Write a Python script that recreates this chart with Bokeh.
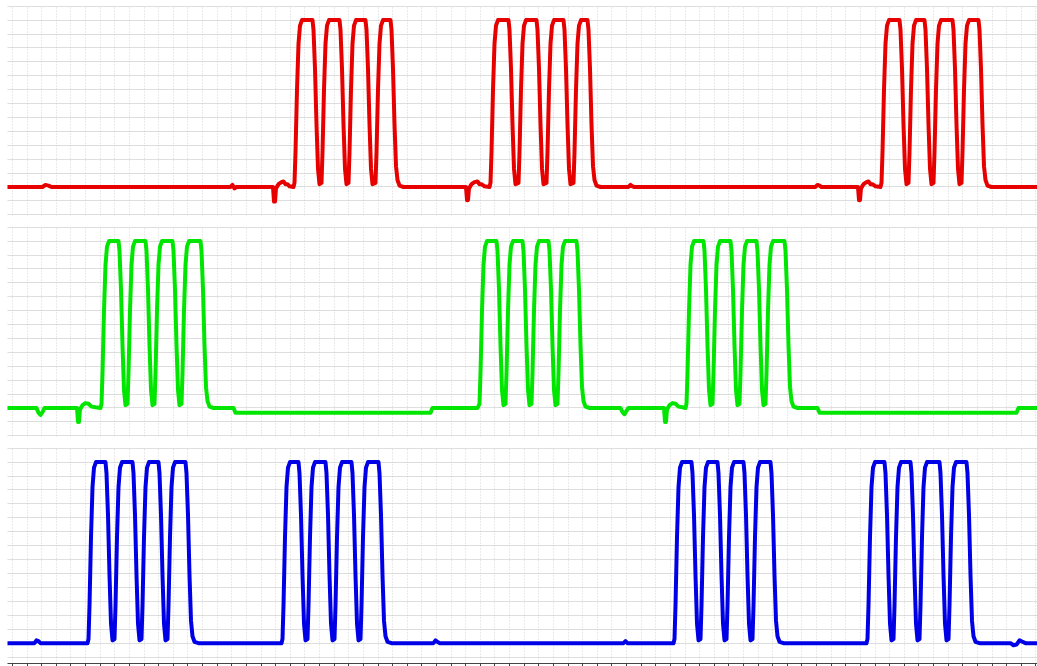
from bokeh.plotting import figure
from bokeh.layouts import column
from bokeh.models import Range1d, FixedTicker, CustomJSTickFormatter
from bokeh.embed import file_html
from bokeh.resources import INLINE

# ---- data: time (arbitrary units) and signal level (divisions) ----
red_t = [7, 42, 45, 48, 51,
         230, 232, 234, 236,
         272.5, 273.5, 274.5, 275.5, 278, 281, 283, 285, 287, 289, 293,
         294, 295, 296.5, 298, 299.5, 301.5, 312, 313, 314.5, 316, 317.5, 319,
         321, 322, 323.5, 325, 326.5, 328.5, 339, 340, 341.5, 343, 344.5, 346,
         348, 349, 350.5, 352, 353.5, 355.5, 365, 366, 367.5, 369, 370.5, 372,
         375, 376, 377.5, 379, 380.5, 382.5, 390, 391, 392.5, 394, 395.5, 397, 399, 403,
         465.5, 466.5, 467.5, 468.5, 471, 474, 477, 479, 481, 484, 489,
         490, 491, 492.5, 494, 495.5, 497.5, 508, 509, 510.5, 512, 513.5, 515,
         518, 519, 520.5, 522, 523.5, 525.5, 536, 537, 538.5, 540, 541.5, 543,
         546, 547, 548.5, 550, 551.5, 553.5, 563, 564, 565.5, 567, 568.5, 570,
         573, 574, 575.5, 577, 578.5, 580.5, 587, 588, 589.5, 591, 592.5, 594, 596, 600,
         628, 630, 632, 634,
         815, 817, 819, 821,
         857.5, 858.5, 859.5, 860.5, 863, 866, 868, 870, 872, 875, 880,
         881, 882, 883.5, 885, 886.5, 888.5, 899, 900, 901.5, 903, 904.5, 906,
         908, 909, 910.5, 912, 913.5, 915.5, 924, 925, 926.5, 928, 929.5, 931,
         933, 934, 935.5, 937, 938.5, 940.5, 952, 953, 954.5, 956, 957.5, 959,
         961, 962, 963.5, 965, 966.5, 968.5, 978, 979, 980.5, 982, 983.5, 985, 987, 991,
         1037]
red_v = [0, 0, 0.15, 0.1, 0,
         0, 0.15, -0.1, 0,
         0, -1.05, -1.05, -0.1, 0.2, 0.35, 0.4, 0.2, 0.2, 0.05, 0,
         0.3, 2.5, 7, 10.3, 11.6, 12, 12, 11.3, 8.5, 4.5, 1.3, 0.2,
         0.3, 2.5, 7, 10.3, 11.6, 12, 12, 11.3, 8.5, 4.5, 1.3, 0.2,
         0.3, 2.5, 7, 10.3, 11.6, 12, 12, 11.3, 8.5, 4.5, 1.3, 0.2,
         0.3, 2.5, 7, 10.3, 11.6, 12, 12, 11.3, 8.5, 4.5, 1.5, 0.5, 0.1, 0,
         0, -0.95, -0.95, -0.1, 0.2, 0.35, 0.4, 0.2, 0.2, 0.05, 0,
         0.3, 2.5, 7, 10.3, 11.6, 12, 12, 11.3, 8.5, 4.5, 1.3, 0.2,
         0.3, 2.5, 7, 10.3, 11.6, 12, 12, 11.3, 8.5, 4.5, 1.3, 0.2,
         0.3, 2.5, 7, 10.3, 11.6, 12, 12, 11.3, 8.5, 4.5, 1.3, 0.2,
         0.3, 2.5, 7, 10.3, 11.6, 12, 12, 11.3, 8.5, 4.5, 1.5, 0.5, 0.1, 0,
         0, 0.15, 0.05, 0,
         0, 0.15, 0.1, 0,
         0, -0.95, -0.95, -0.1, 0.2, 0.35, 0.4, 0.2, 0.2, 0.05, 0,
         0.3, 2.5, 7, 10.3, 11.6, 12, 12, 11.3, 8.5, 4.5, 1.3, 0.2,
         0.3, 2.5, 7, 10.3, 11.6, 12, 12, 11.3, 8.5, 4.5, 1.3, 0.2,
         0.3, 2.5, 7, 10.3, 11.6, 12, 12, 11.3, 8.5, 4.5, 1.3, 0.2,
         0.3, 2.5, 7, 10.3, 11.6, 12, 12, 11.3, 8.5, 4.5, 1.5, 0.5, 0.1, 0,
         0]

green_t = [7, 36, 38, 40, 42, 44,
           76.5, 77.5, 78.5, 79.5, 82, 85, 88, 91, 95, 100,
           101, 102, 103.5, 105, 106.5, 108.5, 118, 119, 120.5, 122, 123.5, 125,
           127, 128, 129.5, 131, 132.5, 134.5, 145, 146, 147.5, 149, 150.5, 152,
           154, 155, 156.5, 158, 159.5, 161.5, 172, 173, 174.5, 176, 177.5, 179,
           181, 182, 183.5, 185, 186.5, 188.5, 200, 201, 202.5, 204, 205.5, 207, 209, 213,
           233, 235, 430, 432, 477,
           479, 480, 481.5, 483, 484.5, 486.5, 496, 497, 498.5, 500, 501.5, 503,
           505, 506, 507.5, 509, 510.5, 512.5, 522, 523, 524.5, 526, 527.5, 529,
           531, 532, 533.5, 535, 536.5, 538.5, 548, 549, 550.5, 552, 553.5, 555,
           557, 558, 559.5, 561, 562.5, 564.5, 576, 577, 578.5, 580, 581.5, 583, 585, 589,
           620, 622, 624, 626, 628,
           663.5, 664.5, 665.5, 666.5, 669, 672, 675, 678, 682, 685,
           686, 687, 688.5, 690, 691.5, 693.5, 703, 704, 705.5, 707, 708.5, 710,
           712, 713, 714.5, 716, 717.5, 719.5, 730, 731, 732.5, 734, 735.5, 737,
           739, 740, 741.5, 743, 744.5, 746.5, 756, 757, 758.5, 760, 761.5, 763,
           765, 766, 767.5, 769, 770.5, 772.5, 784, 785, 786.5, 788, 789.5, 791, 793, 797,
           817, 819, 1016, 1018, 1037]
green_v = [0, 0, -0.35, -0.5, -0.3, 0,
           0, -1.0, -1.0, -0.1, 0.2, 0.35, 0.3, 0.1, 0.05, 0,
           0.3, 2.5, 7, 10.3, 11.6, 12, 12, 11.3, 8.5, 4.5, 1.3, 0.2,
           0.3, 2.5, 7, 10.3, 11.6, 12, 12, 11.3, 8.5, 4.5, 1.3, 0.2,
           0.3, 2.5, 7, 10.3, 11.6, 12, 12, 11.3, 8.5, 4.5, 1.3, 0.2,
           0.3, 2.5, 7, 10.3, 11.6, 12, 12, 11.3, 8.5, 4.5, 1.5, 0.5, 0.1, 0,
           0, -0.35, -0.35, 0, 0,
           0.3, 2.5, 7, 10.3, 11.6, 12, 12, 11.3, 8.5, 4.5, 1.3, 0.2,
           0.3, 2.5, 7, 10.3, 11.6, 12, 12, 11.3, 8.5, 4.5, 1.3, 0.2,
           0.3, 2.5, 7, 10.3, 11.6, 12, 12, 11.3, 8.5, 4.5, 1.3, 0.2,
           0.3, 2.5, 7, 10.3, 11.6, 12, 12, 11.3, 8.5, 4.5, 1.5, 0.5, 0.1, 0,
           0, -0.3, -0.45, -0.2, 0,
           0, -1.0, -1.0, -0.1, 0.2, 0.35, 0.3, 0.1, 0.05, 0,
           0.3, 2.5, 7, 10.3, 11.6, 12, 12, 11.3, 8.5, 4.5, 1.3, 0.2,
           0.3, 2.5, 7, 10.3, 11.6, 12, 12, 11.3, 8.5, 4.5, 1.3, 0.2,
           0.3, 2.5, 7, 10.3, 11.6, 12, 12, 11.3, 8.5, 4.5, 1.3, 0.2,
           0.3, 2.5, 7, 10.3, 11.6, 12, 12, 11.3, 8.5, 4.5, 1.5, 0.5, 0.1, 0,
           0, -0.35, -0.35, 0, 0]

blue_t = [7, 34, 36, 38, 40, 87,
          88, 89, 90.5, 92, 93.5, 95.5, 105, 106, 107.5, 109, 110.5, 112,
          114, 115, 116.5, 118, 119.5, 121.5, 132, 133, 134.5, 136, 137.5, 139,
          141, 142, 143.5, 145, 146.5, 148.5, 158, 159, 160.5, 162, 163.5, 165,
          167, 168, 169.5, 171, 172.5, 174.5, 185, 186, 187.5, 189, 190.5, 192, 194, 198,
          281,
          282, 283, 284.5, 286, 287.5, 289.5, 298, 299, 300.5, 302, 303.5, 305,
          307, 308, 309.5, 311, 312.5, 314.5, 325, 326, 327.5, 329, 330.5, 332,
          334, 335, 336.5, 338, 339.5, 341.5, 351, 352, 353.5, 355, 356.5, 358,
          360, 361, 362.5, 364, 365.5, 367.5, 378, 379, 380.5, 382, 383.5, 385, 387, 391,
          433, 435, 437, 439, 623, 625, 627, 673,
          674, 675, 676.5, 678, 679.5, 681.5, 691, 692, 693.5, 695, 696.5, 698,
          700, 701, 702.5, 704, 705.5, 707.5, 717, 718, 719.5, 721, 722.5, 724,
          726, 727, 728.5, 730, 731.5, 733.5, 743, 744, 745.5, 747, 748.5, 750,
          752, 753, 754.5, 756, 757.5, 759.5, 770, 771, 772.5, 774, 775.5, 777, 779, 783,
          866,
          867, 868, 869.5, 871, 872.5, 874.5, 884, 885, 886.5, 888, 889.5, 891,
          893, 894, 895.5, 897, 898.5, 900.5, 910, 911, 912.5, 914, 915.5, 917,
          919, 920, 921.5, 923, 924.5, 926.5, 939, 940, 941.5, 943, 944.5, 946,
          948, 949, 950.5, 952, 953.5, 955.5, 966, 967, 968.5, 970, 971.5, 973, 975, 979,
          1010, 1013, 1016, 1019, 1022, 1025, 1037]
blue_v = [0, 0, 0.2, 0.15, 0, 0,
          0.3, 2.7, 7.6, 11.2, 12.6, 13, 13, 12.2, 9.2, 4.9, 1.4, 0.2,
          0.3, 2.7, 7.6, 11.2, 12.6, 13, 13, 12.2, 9.2, 4.9, 1.4, 0.2,
          0.3, 2.7, 7.6, 11.2, 12.6, 13, 13, 12.2, 9.2, 4.9, 1.4, 0.2,
          0.3, 2.7, 7.6, 11.2, 12.6, 13, 13, 12.2, 9.2, 4.9, 1.6, 0.5, 0.1, 0,
          0,
          0.3, 2.7, 7.6, 11.2, 12.6, 13, 13, 12.2, 9.2, 4.9, 1.4, 0.2,
          0.3, 2.7, 7.6, 11.2, 12.6, 13, 13, 12.2, 9.2, 4.9, 1.4, 0.2,
          0.3, 2.7, 7.6, 11.2, 12.6, 13, 13, 12.2, 9.2, 4.9, 1.4, 0.2,
          0.3, 2.7, 7.6, 11.2, 12.6, 13, 13, 12.2, 9.2, 4.9, 1.6, 0.5, 0.1, 0,
          0, 0.2, 0.1, 0, 0, 0.15, 0, 0,
          0.3, 2.7, 7.6, 11.2, 12.6, 13, 13, 12.2, 9.2, 4.9, 1.4, 0.2,
          0.3, 2.7, 7.6, 11.2, 12.6, 13, 13, 12.2, 9.2, 4.9, 1.4, 0.2,
          0.3, 2.7, 7.6, 11.2, 12.6, 13, 13, 12.2, 9.2, 4.9, 1.4, 0.2,
          0.3, 2.7, 7.6, 11.2, 12.6, 13, 13, 12.2, 9.2, 4.9, 1.6, 0.5, 0.1, 0,
          0,
          0.3, 2.7, 7.6, 11.2, 12.6, 13, 13, 12.2, 9.2, 4.9, 1.4, 0.2,
          0.3, 2.7, 7.6, 11.2, 12.6, 13, 13, 12.2, 9.2, 4.9, 1.4, 0.2,
          0.3, 2.7, 7.6, 11.2, 12.6, 13, 13, 12.2, 9.2, 4.9, 1.4, 0.2,
          0.3, 2.7, 7.6, 11.2, 12.6, 13, 13, 12.2, 9.2, 4.9, 1.6, 0.5, 0.1, 0,
          0, -0.15, -0.1, 0.2, 0.1, 0, 0]

# grid positions (time divisions) and level divisions
x_div = [12 + 14.62 * k for k in range(71)]
ry_div = list(range(-2, 14))
by_div = list(range(-1, 15))

GRID_H = "#bdbdbd"
GRID_V = "#d4d4d4"


def panel(t, v, color, y0, y1, yticks, fh, top, bottom, axis):
    p = figure(frame_width=1030, frame_height=fh,
               x_range=Range1d(7, 1037), y_range=Range1d(y0, y1),
               output_backend="svg", toolbar_location=None,
               min_border_left=7, min_border_right=0,
               min_border_top=top, min_border_bottom=bottom,
               outline_line_color=None,
               background_fill_color="white", border_fill_color="white")
    p.xaxis.ticker = FixedTicker(ticks=x_div)
    p.yaxis.ticker = FixedTicker(ticks=yticks)
    p.xgrid.ticker = FixedTicker(ticks=x_div)
    p.ygrid.ticker = FixedTicker(ticks=yticks)
    p.xgrid.grid_line_color = GRID_V
    p.xgrid.grid_line_dash = "1 2"
    p.ygrid.grid_line_color = GRID_H
    p.ygrid.grid_line_dash = "1 1"
    p.yaxis.visible = False
    if axis:
        ax = p.xaxis[0]
        ax.formatter = CustomJSTickFormatter(code="return ''")
        ax.major_label_standoff = 0
        ax.major_tick_out = 3
        ax.major_tick_in = 0
        ax.minor_tick_line_color = None
        ax.axis_line_color = "#444444"
        ax.major_tick_line_color = "#444444"
    else:
        p.xaxis.visible = False
    p.line(t, v, line_color=color, line_width=4,
           line_join="round", line_cap="round")
    return p


p1 = panel(red_t, red_v, "#e60000", -2.05, 13.05, ry_div, 210, 5, 6, False)
p2 = panel(green_t, green_v, "#00e600", -2.05, 13.05, ry_div, 210, 5, 6, False)
p3 = panel(blue_t, blue_v, "#0000e6", -1.46, 14.05, by_div, 216, 5, 0, True)

layout = column(p1, p2, p3, spacing=0)
open("out.html", "w").write(file_html(layout, INLINE))
